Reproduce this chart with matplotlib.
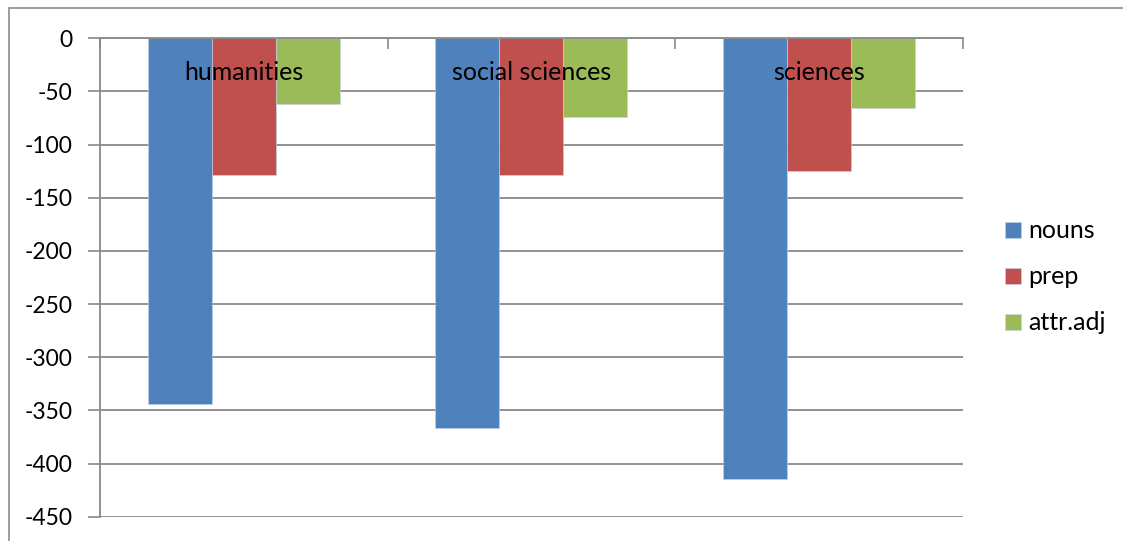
import matplotlib
matplotlib.use("Agg")
import matplotlib.pyplot as plt
import matplotlib.transforms as mtransforms
import numpy as np

categories = ["humanities", "social sciences", "sciences"]
series = ["nouns", "prep", "attr.adj"]
nouns = [-344, -367, -415]
prep = [-129, -129, -125]
attr_adj = [-62, -74, -66]
yticks = [0, -50, -100, -150, -200, -250, -300, -350, -400, -450]

COLORS = ["#4F81BD", "#C0504D", "#9BBB59"]
GRID = "#898989"

plt.rcParams["font.family"] = ["Lato", "DejaVu Sans"]
plt.rcParams["font.size"] = 16

W, H = 1123, 541
fig = plt.figure(figsize=(W / 100, H / 100), dpi=100)
ax = fig.add_axes([100 / W, 1 - 516.7 / H, 862.5 / W, (516.7 - 38.3) / H])

# outer chart frame
fig.add_artist(plt.Rectangle((9 / W, -0.05), 1.2, 1 - 8 / H + 0.05, transform=fig.transFigure,
                             fill=False, ec="#8c8c8c", lw=1.2))

x = np.arange(len(categories))
bw = 1 / 4.5
for i, (vals, name) in enumerate(zip([nouns, prep, attr_adj], series)):
    ax.bar(x + (i - 1) * bw, vals, bw, color=COLORS[i], label=name,
           edgecolor="#c7d6ea", linewidth=0.4, zorder=3)

ax.set_xlim(-0.5, len(categories) - 0.5)
ax.set_ylim(-450, 0)
ax.set_yticks(yticks)
ax.set_yticklabels([str(v) for v in yticks])
ax.yaxis.grid(True, color=GRID, lw=1.3, zorder=0)
ax.tick_params(axis="y", length=9, width=1.2, color=GRID, pad=11, labelsize=16.5)

# x axis sits at zero (top); category labels just below it, over the bars
ax.xaxis.set_ticks_position("top")
ax.set_xticks(np.arange(len(categories) + 1) - 0.5)
ax.set_xticklabels([])
ax.tick_params(axis="x", which="major", direction="in", length=8, width=1.2, color=GRID)
trans = mtransforms.blended_transform_factory(ax.transData, ax.transAxes)
for xi, cat in zip(x, categories):
    ax.text(xi, 0.928, cat, transform=trans, ha="center", va="center",
            fontsize=18, color="black", zorder=6)

for side in ["right", "bottom"]:
    ax.spines[side].set_visible(False)
for side in ["left", "top"]:
    ax.spines[side].set_color(GRID)
    ax.spines[side].set_linewidth(1.3)
    ax.spines[side].set_zorder(4)

fig.legend(loc="center left", bbox_to_anchor=(995 / W, 1 - 277 / H), frameon=False,
           fontsize=18, handlelength=0.62, handleheight=0.62, handletextpad=0.3,
           labelspacing=0.92, borderaxespad=0)

fig.savefig("out.png", dpi=100)
